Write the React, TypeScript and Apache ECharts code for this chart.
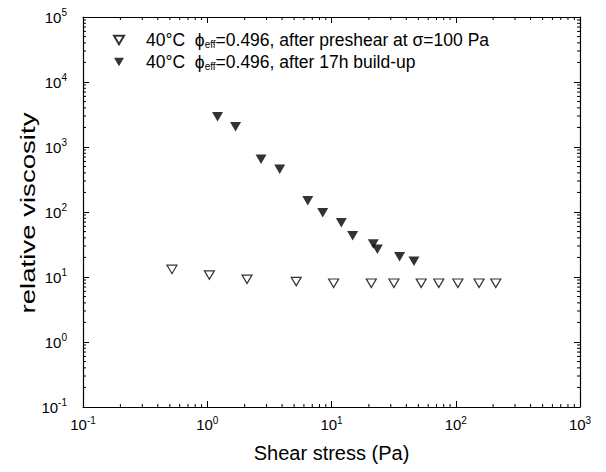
import React, { useEffect, useRef } from "react";
import * as echarts from "echarts";

// Open triangles: 40°C ϕeff=0.496, after preshear at σ=100 Pa
const preshearStress = [0.52, 1.04, 2.09, 5.2, 10.4, 20.9, 31.8, 52.7, 73, 104, 154, 210];
const preshearViscosity = [13.1, 10.7, 9.2, 8.5, 8.0, 8.0, 8.0, 8.0, 8.0, 8.0, 8.0, 8.0];

// Filled triangles: 40°C ϕeff=0.496, after 17h build-up
const buildupStress = [1.21, 1.69, 2.71, 3.83, 6.44, 8.5, 12.0, 14.8, 21.7, 23.4, 35.3, 46.1];
const buildupViscosity = [2924, 2052, 646, 454, 149, 97.6, 68.4, 43.2, 32.2, 26.7, 20.5, 17.5];

const seriesNames = ["preshear", "buildup"];
const legendLabels = [
  "40°C  {phi|ϕ}{sub|eff}=0.496, after preshear at σ=100 Pa",
  "40°C  {phi|ϕ}{sub|eff}=0.496, after 17h build-up",
];

const xDecades = [0.1, 1, 10, 100];
const yDecades = [0.1, 1, 10, 100, 1000, 10000];
const minorMultipliers = [2, 3, 4, 5, 6, 7, 8, 9];

const xTitle = "Shear stress (Pa)";
const yTitle = "relative viscosity";

const FONT = "Liberation Sans, Arial, Helvetica, sans-serif";
const TRI = "path://M0,0L10,0L5,8.66Z";

const xMinor: number[][] = [];
xDecades.forEach((d) => minorMultipliers.forEach((m) => xMinor.push([d * m, 1])));
const yMinor: number[][] = [];
yDecades.forEach((d) => minorMultipliers.forEach((m) => yMinor.push([1, d * m])));

const powLabel = (v: number) => {
  const e = Math.round(Math.log10(v));
  return `{b|10}{s|${e}}`;
};

const labelRich = {
  b: { fontSize: 15, fontFamily: FONT, color: "#000" },
  s: { fontSize: 10, fontFamily: FONT, color: "#000", padding: [0, 0, 9, 0] },
};

export default function App() {
  const ref = useRef<HTMLDivElement>(null);
  useEffect(() => {
    if (!ref.current) return;
    const chart = echarts.init(ref.current, null, { renderer: "svg" });
    const axisCommon = {
      type: "log" as const,
      logBase: 10,
      axisLine: { show: true, lineStyle: { color: "#000", width: 1.2 } },
      axisTick: { show: true, inside: true, length: 6, lineStyle: { color: "#000", width: 1 } },
      splitLine: { show: false },
    };
    const tickRender = (isX: boolean) => (params: any, api: any) => {
      const cs = params.coordSys;
      const style = { stroke: "#000", lineWidth: 1 };
      if (isX) {
        const p = api.coord([api.value(0), 1]);
        const b = cs.y + cs.height;
        return {
          type: "group",
          children: [
            { type: "line", shape: { x1: p[0], y1: b, x2: p[0], y2: b - 3 }, style },
            { type: "line", shape: { x1: p[0], y1: cs.y, x2: p[0], y2: cs.y + 3 }, style },
          ],
        };
      }
      const p = api.coord([1, api.value(1)]);
      const r = cs.x + cs.width;
      return {
        type: "group",
        children: [
          { type: "line", shape: { x1: cs.x, y1: p[1], x2: cs.x + 3, y2: p[1] }, style },
          { type: "line", shape: { x1: r, y1: p[1], x2: r - 3, y2: p[1] }, style },
        ],
      };
    };
    chart.setOption({
      animation: false,
      backgroundColor: "#fff",
      textStyle: { fontFamily: FONT },
      grid: { left: 83, right: 26, top: 17, bottom: 65, containLabel: false },
      graphic: [
        {
          type: "text",
          x: 28,
          y: 213,
          rotation: Math.PI / 2,
          scaleX: 1.38,
          scaleY: 1,
          style: {
            text: yTitle,
            fontSize: 20,
            fontFamily: FONT,
            fill: "#000",
            align: "center",
            verticalAlign: "middle",
          },
        },
      ],
      legend: {
        orient: "vertical",
        left: 113,
        top: 31,
        padding: 0,
        itemWidth: 10,
        itemHeight: 9,
        itemGap: 4,
        data: seriesNames.map((n) => ({ name: n })),
        formatter: (name: string) => legendLabels[seriesNames.indexOf(name)],
        textStyle: {
          fontSize: 17.5,
          lineHeight: 18,
          fontFamily: FONT,
          color: "#000",
          padding: [0, 0, 0, 17],
          rich: {
            phi: { fontSize: 17.5, lineHeight: 18, fontFamily: FONT, color: "#000" },
            sub: { fontSize: 10, lineHeight: 18, fontFamily: FONT, color: "#000", padding: [8, 0, 0, 0] },
          },
        },
        selectedMode: false,
      },
      xAxis: [
        {
          ...axisCommon,
          min: 0.1,
          max: 1000,
          position: "bottom",
          axisLabel: { formatter: powLabel, rich: labelRich, margin: 8 },
          name: xTitle,
          nameLocation: "middle",
          nameGap: 36,
          nameTextStyle: { fontSize: 20, fontFamily: FONT, color: "#000" },
        },
        {
          ...axisCommon,
          min: 0.1,
          max: 1000,
          position: "top",
          axisLabel: { show: false },
        },
      ],
      yAxis: [
        {
          ...axisCommon,
          min: 0.1,
          max: 100000,
          position: "left",
          axisLabel: { formatter: powLabel, rich: labelRich, margin: 16 },
        },
        {
          ...axisCommon,
          min: 0.1,
          max: 100000,
          position: "right",
          axisLabel: { show: false },
        },
      ],
      series: [
        {
          name: seriesNames[0],
          type: "scatter",
          symbol: TRI,
          symbolSize: [10, 8.5],
          itemStyle: { color: "#fff", borderColor: "#000", borderWidth: 1.2 },
          data: preshearStress.map((x, i) => [x, preshearViscosity[i]]),
          z: 5,
        },
        {
          name: seriesNames[1],
          type: "scatter",
          symbol: TRI,
          symbolSize: [11, 9.5],
          itemStyle: { color: "#000", borderColor: "#000", borderWidth: 0 },
          data: buildupStress.map((x, i) => [x, buildupViscosity[i]]),
          z: 5,
        },
        {
          name: "xminor",
          type: "custom",
          silent: true,
          clip: false,
          renderItem: tickRender(true),
          data: xMinor,
        },
        {
          name: "yminor",
          type: "custom",
          silent: true,
          clip: false,
          renderItem: tickRender(false),
          data: yMinor,
        },
      ],
    });
    return () => chart.dispose();
  }, []);
  return (
    <div
      ref={ref}
      style={{ position: "fixed", left: 0, top: 0, width: 606, height: 472, background: "#fff" }}
    />
  );
}
